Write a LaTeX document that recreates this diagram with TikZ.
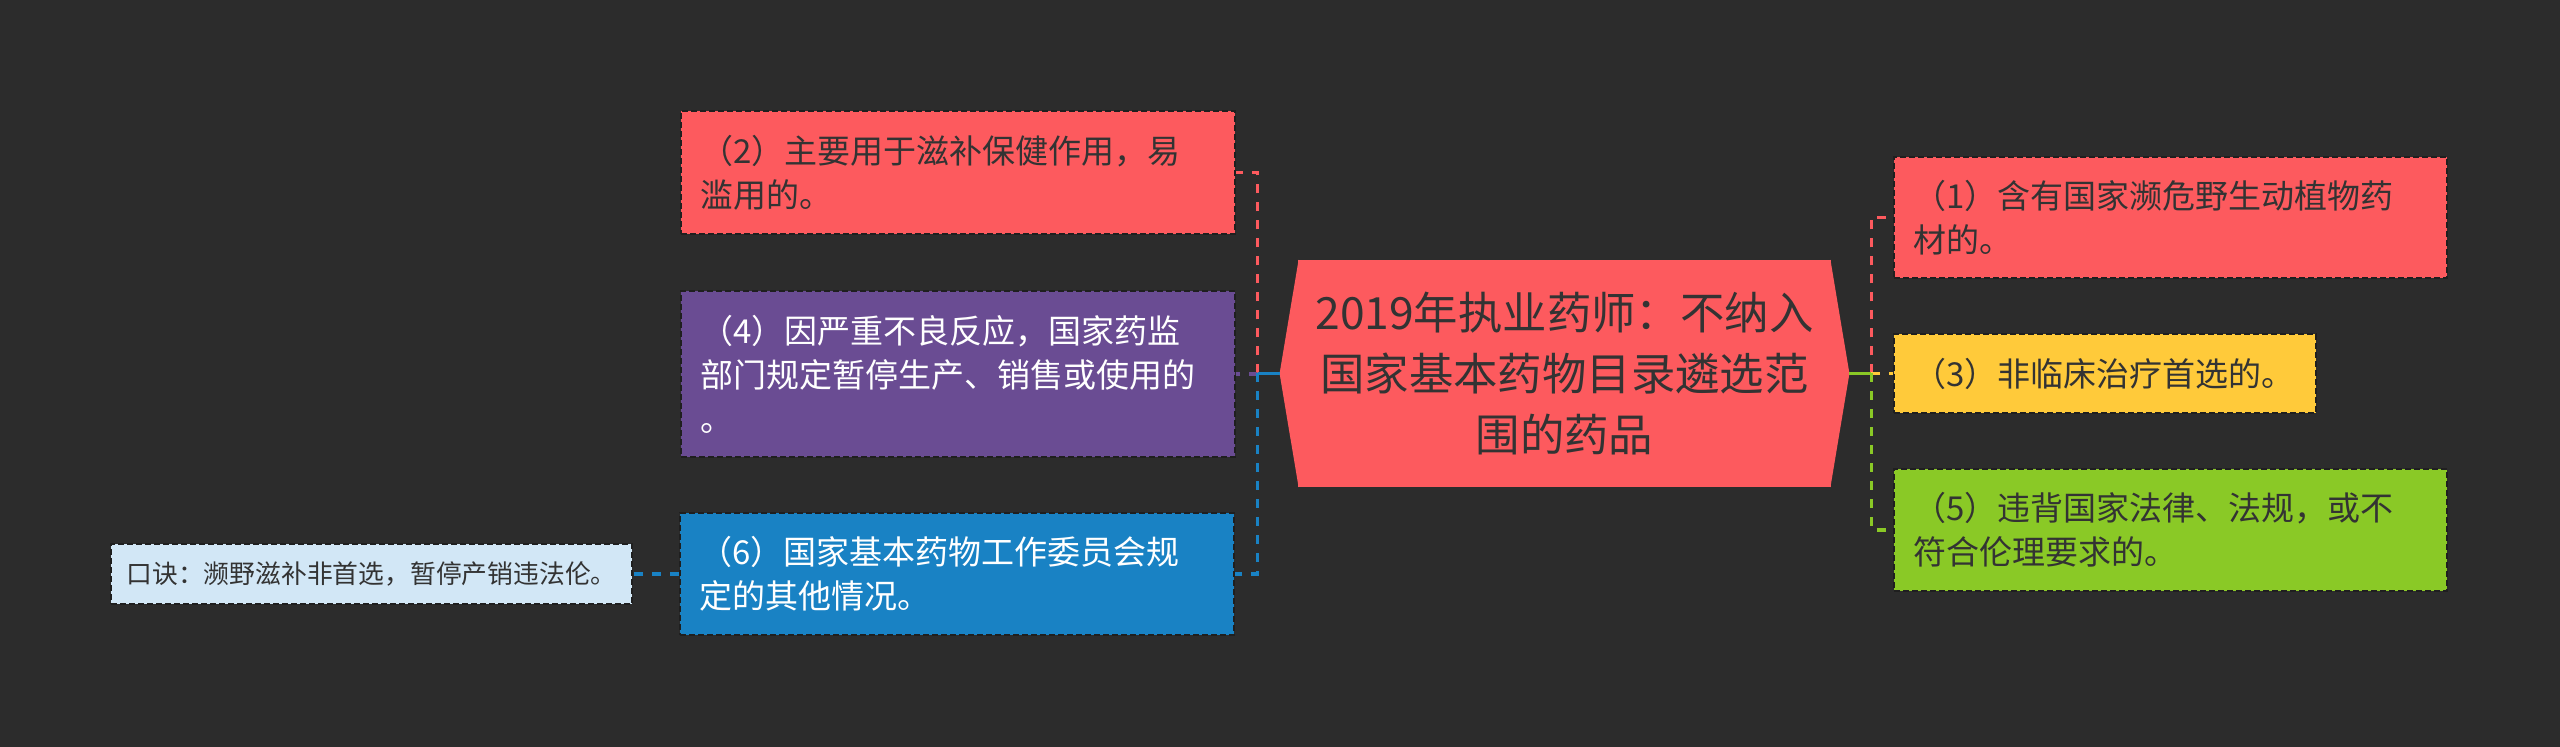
\documentclass[tikz,border=0pt]{standalone}
\usepackage{fontspec}
\setmainfont{Noto Sans CJK SC}
\usetikzlibrary{calc}

\definecolor{bgdark}{HTML}{2C2C2C}
\definecolor{redbox}{HTML}{FD5A5E}
\definecolor{purplebox}{HTML}{6A4C93}
\definecolor{bluebox}{HTML}{1982C4}
\definecolor{yellowbox}{HTML}{FFCA3A}
\definecolor{greenbox}{HTML}{8AC926}
\definecolor{palebox}{HTML}{D2E7F6}
\definecolor{inkdark}{HTML}{333333}

\begin{document}
\begin{tikzpicture}[x=0.5pt, y=-0.5pt,
	leaf/.style={draw=bgdark!70!black, line width=1pt, dash pattern=on 3pt off 1.5pt, inner xsep=9.5pt, inner ysep=0pt, align=left, font=\fontsize{16.5}{22}\selectfont},
	memo/.style={draw=bgdark!70!black, line width=1pt, dash pattern=on 3pt off 1.5pt, inner sep=0pt, align=center, font=\fontsize{12.9}{16}\selectfont},
	link/.style={line width=1.6pt, dash pattern=on 4.5pt off 4.5pt},
	stem/.style={line width=1.6pt}]
	\fill[bgdark] (0,0) rectangle (2560,747);
	\useasboundingbox (0,0) rectangle (2560,747);

	\node[fill=redbox, text=inkdark, minimum width=266.5pt, minimum height=113.5pt, inner sep=0pt, align=center, font=\fontsize{22.2}{30.5}\selectfont] (topic) at (1564.5,373.5) {2019年执业药师：不纳入\\国家基本药物目录遴选范\\围的药品};
	\fill[redbox] ($(topic.north west)+(0.5pt,0)$) -- ($(topic.west)+(-9pt,0)$) coordinate (tipL) -- ($(topic.south west)+(0.5pt,0)$) -- cycle;
	\fill[redbox] ($(topic.north east)+(-0.5pt,0)$) -- ($(topic.east)+(9pt,0)$) coordinate (tipR) -- ($(topic.south east)+(-0.5pt,0)$) -- cycle;

	\node[leaf, fill=redbox, text=inkdark, text width=258pt, minimum height=61.5pt] (drugtwo) at (958,172.5) {（2）主要用于滋补保健作用，易\\滥用的。};
	\node[leaf, fill=purplebox, text=white, text width=258pt, minimum height=83pt] (drugfour) at (958,374) {（4）因严重不良反应，国家药监\\部门规定暂停生产、销售或使用的\\。};
	\node[leaf, fill=bluebox, text=white, text width=258pt, minimum height=61pt] (drugsix) at (957,574) {（6）国家基本药物工作委员会规\\定的其他情况。};
	\node[memo, fill=palebox, text=inkdark, minimum width=260.5pt, minimum height=30pt] (rhyme) at (371.5,574) {口诀：濒野滋补非首选，暂停产销违法伦。};

	\node[leaf, fill=redbox, text=inkdark, text width=257.5pt, minimum height=60.5pt] (drugone) at (2170.5,217.5) {（1）含有国家濒危野生动植物药\\材的。};
	\node[leaf, fill=yellowbox, text=inkdark, text width=192pt, minimum height=39.5pt] (drugthree) at (2105,373.5) {（3）非临床治疗首选的。};
	\node[leaf, fill=greenbox, text=inkdark, text width=257.5pt, minimum height=61pt] (drugfive) at (2170.5,530) {（5）违背国家法律、法规，或不\\符合伦理要求的。};

	\draw[stem, redbox] (tipL) -- ++(-11pt,0) coordinate (busL);
	\draw[link, redbox] (busL) |- (drugtwo.east);
	\draw[stem, purplebox] (tipL) -- (busL);
	\draw[link, purplebox] (busL) |- (drugfour.east);
	\draw[stem, bluebox] (tipL) -- (busL);
	\draw[link, bluebox] (busL) |- (drugsix.east);
	\draw[link, bluebox] (drugsix.west) -- (rhyme.east);

	\draw[stem, redbox] (tipR) -- ++(11pt,0) coordinate (busR);
	\draw[link, redbox] (busR) |- (drugone.west);
	\draw[stem, yellowbox] (tipR) -- (busR);
	\draw[link, yellowbox] (busR) |- (drugthree.west);
	\draw[stem, greenbox] (tipR) -- (busR);
	\draw[link, greenbox] (busR) |- (drugfive.west);
\end{tikzpicture}
\end{document}
